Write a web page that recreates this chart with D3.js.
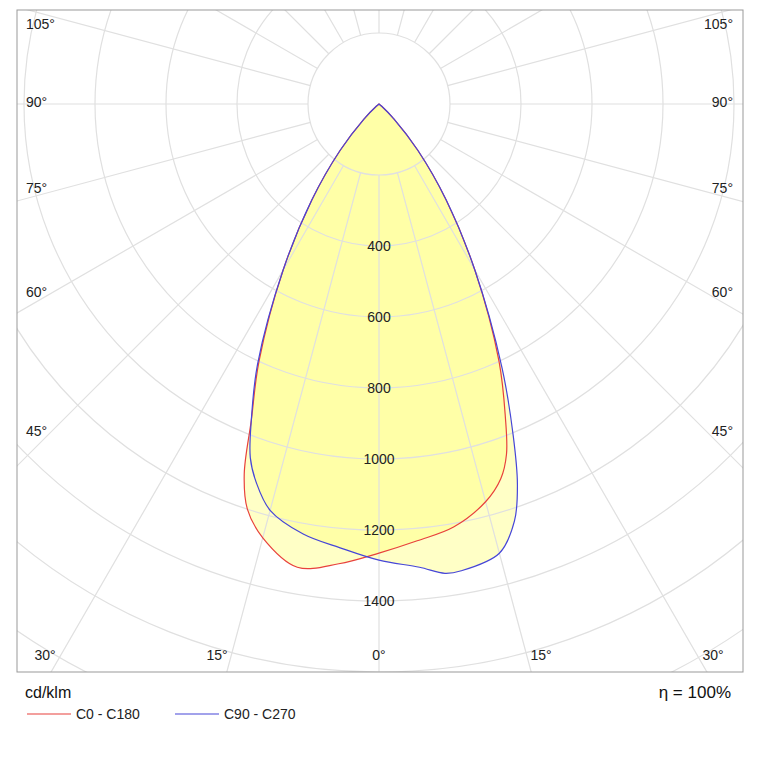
<!DOCTYPE html>
<html><head><meta charset="utf-8">
<script src="https://cdn.jsdelivr.net/npm/d3@7"></script>
<style>body{margin:0;background:#fff}text{font-family:Arial,"Liberation Sans",sans-serif}</style>
</head><body><svg id="c" width="767" height="767"></svg>
<script>
// angles in degrees from nadir; negative = left half of the plane
const anglesRed  = [-90,-60,-50,-45,-40,-35,-30,-25,-22,-20,-18,-15,-10,-5,0,5,10,15,18,20,22,25,30,35,40,45,50,60,90];
const valuesRed  = [0,0,10,60,170,330,540,800,960,1110,1200,1265,1325,1300,1265,1235,1210,1160,1110,1050,950,800,540,330,170,60,10,0,0];
const anglesBlue = [-90,-60,-50,-45,-40,-35,-30,-25,-22,-20,-18,-15,-10,-5,0,5,8,10,15,18,20,22,25,30,35,40,45,50,60,90];
const valuesBlue = [0,0,10,60,170,330,540,810,960,1060,1120,1185,1230,1255,1285,1310,1335,1335,1310,1235,1140,1010,820,540,330,170,60,10,0,0];
const ringValues = [200,400,600,800,1000,1200,1400,1600,1800,2000,2200];
const ringLabels = [400,600,800,1000,1200,1400];
const spokeAngles = d3.range(-180,180,15);
const sideLabels = [{a:105,y:24},{a:90,y:102},{a:75,y:188},{a:60,y:292},{a:45,y:431}];
const bottomLabels = [{a:0,x:379},{a:15,x:541},{a:30,x:713}];
const legend = [{name:"C0 - C180",color:"#e8413c"},{name:"C90 - C270",color:"#4646d8"}];

const svg=d3.select("#c");
const box={x0:17,y0:10,x1:743,y1:672};
const cx=379, cy=104;
const r=d3.scaleLinear().domain([0,200]).range([0,71]);
const pt=(a,v)=>{const t=a*Math.PI/180;return [cx+r(v)*Math.sin(t), cy+r(v)*Math.cos(t)];};

svg.append("defs").append("clipPath").attr("id","clip").append("rect")
 .attr("x",box.x0).attr("y",box.y0).attr("width",box.x1-box.x0).attr("height",box.y1-box.y0);
const g=svg.append("g").attr("clip-path","url(#clip)");

const line=d3.line().curve(d3.curveCatmullRom);
const pRed=anglesRed.map((a,i)=>pt(a,valuesRed[i]));
const pBlue=anglesBlue.map((a,i)=>pt(a,valuesBlue[i]));
[pRed,pBlue].forEach(p=>g.append("path").attr("d",line(p)+"Z").attr("fill","#ffff80").attr("fill-opacity",0.45).attr("stroke","none"));

ringValues.forEach(v=>g.append("circle").attr("cx",cx).attr("cy",cy).attr("r",r(v)).attr("fill","none").attr("stroke","#e0e0e0").attr("stroke-width",1.2));
spokeAngles.forEach(a=>{const p0=pt(a,200),p1=pt(a,3000);
 g.append("line").attr("x1",p0[0]).attr("y1",p0[1]).attr("x2",p1[0]).attr("y2",p1[1]).attr("stroke","#e0e0e0").attr("stroke-width",1.2);});

g.append("path").attr("d",line(pRed)+"Z").attr("fill","none").attr("stroke",legend[0].color).attr("stroke-width",1.2);
g.append("path").attr("d",line(pBlue)+"Z").attr("fill","none").attr("stroke",legend[1].color).attr("stroke-width",1.2);

svg.append("rect").attr("x",box.x0).attr("y",box.y0).attr("width",box.x1-box.x0).attr("height",box.y1-box.y0).attr("fill","none").attr("stroke","#999");

ringLabels.forEach(v=>svg.append("text").attr("x",cx).attr("y",cy+r(v)+5).attr("text-anchor","middle").attr("font-size",14).attr("fill","#222").text(v));
sideLabels.forEach(d=>{
 svg.append("text").attr("x",26).attr("y",d.y+5).attr("font-size",14).attr("fill","#222").text(d.a+"°");
 svg.append("text").attr("x",733).attr("y",d.y+5).attr("text-anchor","end").attr("font-size",14).attr("fill","#222").text(d.a+"°");});
bottomLabels.forEach(d=>{
 svg.append("text").attr("x",d.x).attr("y",660).attr("text-anchor","middle").attr("font-size",14).attr("fill","#222").text(d.a+"°");
 if(d.a) svg.append("text").attr("x",2*cx-d.x).attr("y",660).attr("text-anchor","middle").attr("font-size",14).attr("fill","#222").text(d.a+"°");});

svg.append("text").attr("x",25).attr("y",698).attr("font-size",16).attr("fill","#111").text("cd/klm");
svg.append("text").attr("x",731).attr("y",698).attr("text-anchor","end").attr("font-size",17).attr("fill","#111").text("η = 100%");
legend.forEach((d,i)=>{const x0=27+i*148;
 svg.append("line").attr("x1",x0).attr("x2",x0+44).attr("y1",714).attr("y2",714).attr("stroke",d.color).attr("stroke-width",1.2);
 svg.append("text").attr("x",x0+49).attr("y",719).attr("font-size",14).attr("fill","#222").text(d.name);});
</script></body></html>
